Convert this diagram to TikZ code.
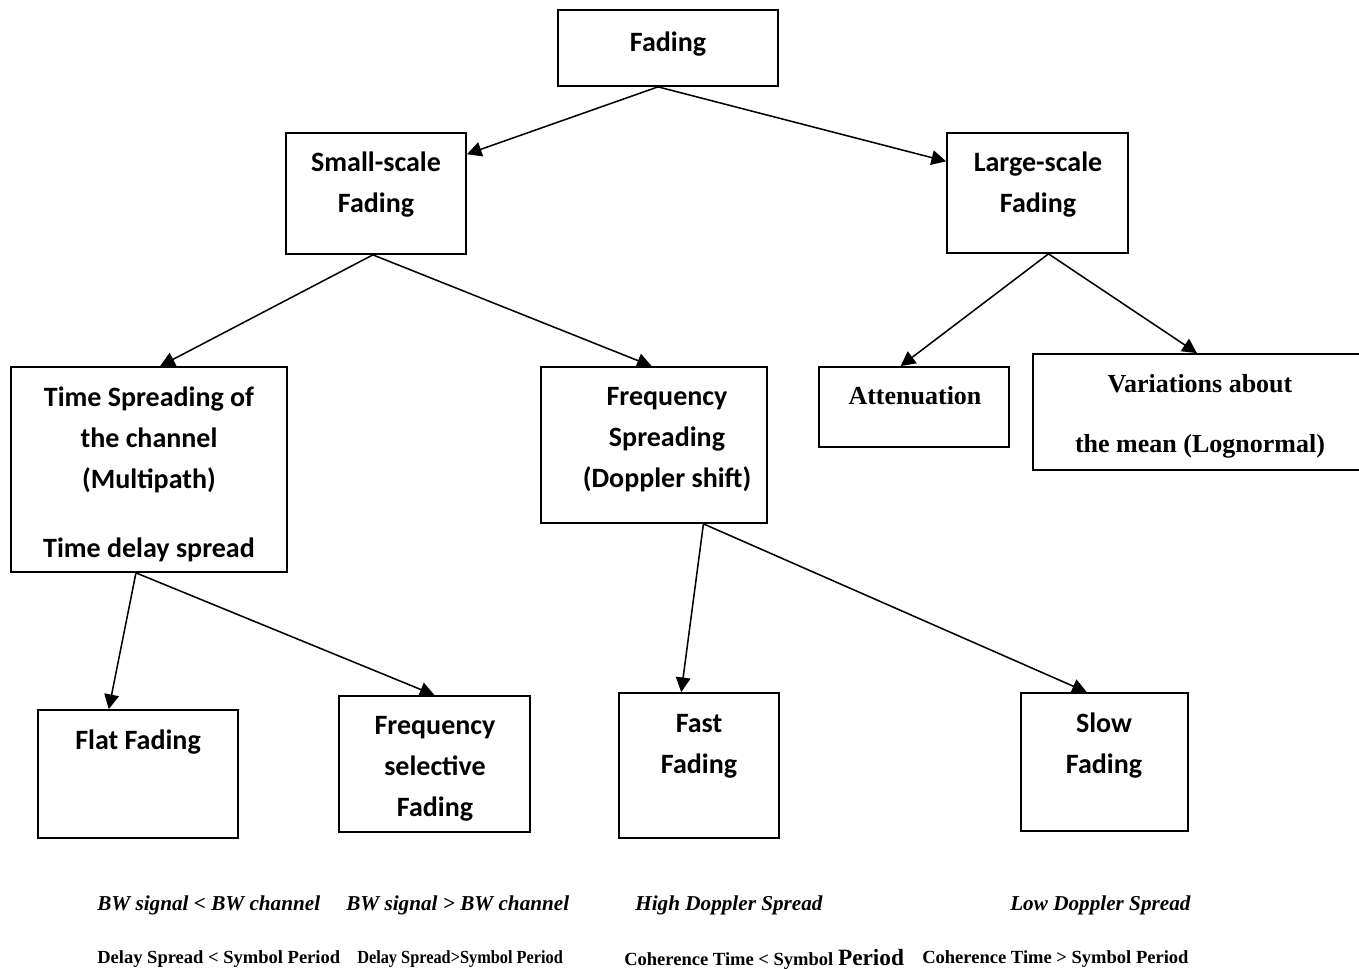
\documentclass[tikz,border=0pt]{standalone}
\usepackage{fontspec}
\setmainfont{Liberation Serif}
\newfontfamily\calfont{Carlito}
\usetikzlibrary{arrows.meta,fit,calc}

\begin{document}
\begin{tikzpicture}[x=0.75pt,y=-0.75pt,
  box/.style={draw, line width=1.3pt, inner sep=0pt},
  ttl/.style={font=\calfont\bfseries\fontsize{21}{30.75}\selectfont, align=center, inner sep=0pt},
  tms/.style={font=\bfseries\fontsize{19.5}{23}\selectfont, inner sep=0pt},
  cond/.style={font=\bfseries\itshape\fontsize{15.9}{18}\selectfont, anchor=west, inner sep=0pt},
  rulestyle/.style={font=\bfseries\fontsize{13.9}{16}\selectfont, anchor=west, inner sep=0pt},
  arr/.style={line width=1.15pt, -{Triangle[length=11pt,width=11pt]}}]

\useasboundingbox (0,0) rectangle (1359,969);

% ---------- boxes ----------
\node[box, fit={(558,10) (778,86)}] (fading) {};
\node[box, fit={(286,133) (466,254)}] (small) {};
\node[box, fit={(947,133) (1128,253)}] (large) {};
\node[box, fit={(11,367) (287,572)}] (time) {};
\node[box, fit={(541,367) (767,523)}] (freq) {};
\node[box, fit={(819,367) (1009,447)}] (atten) {};
\node[box, fit={(1033,354) (1361,470)}] (varia) {};
\node[box, fit={(38,710) (238,838)}] (flat) {};
\node[box, fit={(339,696) (530,832)}] (fsel) {};
\node[box, fit={(619,693) (779,838)}] (fast) {};
\node[box, fit={(1021,693) (1188,831)}] (slow) {};

% ---------- box texts ----------
\node[ttl] (tFading) at (668,44) {Fading};
\node[ttl] (tSmall) at (376,185) {Small-scale\\Fading};
\node[ttl] (tLarge) at (1038,185) {Large-scale\\Fading};
\node[ttl] (tTime) at (149,440) {Time Spreading of\\the channel\\(Multipath)};
\node[ttl] (tDelay) at (149,550) {Time delay spread};
\node[ttl] (tFreq) at (667,440) {Frequency\\Spreading\\(Doppler shift)};
\node[tms] (tAtten) at (915,396) {Attenuation};
\node[tms] (tVar1) at (1200,384) {Variations about};
\node[tms] (tVar2) at (1200,446) {the mean (Lognormal)};
\node[ttl] (tFlat) at (138,742) {Flat Fading};
\node[ttl] (tFsel) at (435,769) {Frequency\\selective\\Fading};
\node[ttl] (tFast) at (699,746) {Fast\\Fading};
\node[ttl] (tSlow) at (1104,746) {Slow\\Fading};

% ---------- connectors ----------
\draw[arr] ($(fading.south west)!0.455!(fading.south east)$) -- ($(small.north east)!0.18!(small.south east)$);
\draw[arr] ($(fading.south west)!0.455!(fading.south east)$) -- ($(large.north west)!0.24!(large.south west)$);
\draw[arr] ($(small.south west)!0.483!(small.south east)$) -- ($(time.north west)!0.54!(time.north east)$);
\draw[arr] ($(small.south west)!0.483!(small.south east)$) -- ($(freq.north west)!0.49!(freq.north east)$);
\draw[arr] ($(large.south west)!0.56!(large.south east)$) -- ($(atten.north west)!0.43!(atten.north east)$);
\draw[arr] ($(large.south west)!0.56!(large.south east)$) -- ($(varia.north west)!0.5!(varia.north east)$);
\draw[arr] ($(time.south west)!0.453!(time.south east)$) -- ($(flat.north west)!0.355!(flat.north east)$);
\draw[arr] ($(time.south west)!0.453!(time.south east)$) -- ($(fsel.north west)!0.5!(fsel.north east)$);
\draw[arr] ($(freq.south west)!0.717!(freq.south east)$) -- ($(fast.north west)!0.39!(fast.north east)$);
\draw[arr] ($(freq.south west)!0.717!(freq.south east)$) -- ($(slow.north west)!0.395!(slow.north east)$);

% ---------- conditions ----------
\node[cond] (c1) at (97,905) {BW signal < BW channel};
\node[cond] (c2) at (346,905) {BW signal > BW channel};
\node[cond] (c3) at (635,905) {High Doppler Spread};
\node[cond] (c4) at (1010,905) {Low Doppler Spread};
\node[rulestyle] (r1) at (97,959) {Delay Spread < Symbol Period};
\node[rulestyle] (r2) at (357,959) {\scalebox{0.88}[1]{Delay Spread>Symbol Period}};
\node[rulestyle] (r3) at (624,959) {Coherence Time < Symbol {\fontsize{17.5}{18}\selectfont Period}};
\node[rulestyle] (r4) at (922,959) {Coherence Time > Symbol Period};
\end{tikzpicture}
\end{document}
